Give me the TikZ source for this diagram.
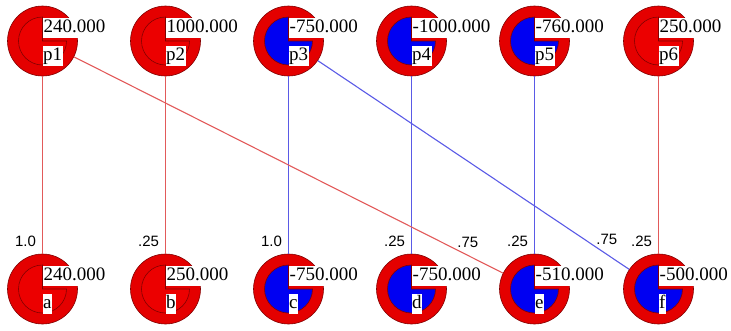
\documentclass[tikz,border=0pt]{standalone}
\usepackage{fontspec}
\setmainfont{Liberation Serif}
\newfontfamily\lblfont{Liberation Sans}
\definecolor{ringred}{RGB}{228,0,0}
\definecolor{ringedge}{RGB}{130,0,0}
\definecolor{posred}{RGB}{236,0,0}
\definecolor{negblue}{RGB}{0,0,242}
\definecolor{linkred}{RGB}{226,90,90}
\definecolor{linkblue}{RGB}{90,90,230}
\tikzset{
  vtx/.style={circle, minimum size=70pt, inner sep=0pt, fill=ringred, draw=ringedge, line width=0.6pt},
  valbox/.style={fill=white, inner sep=1pt, text height=14pt, text depth=4pt, anchor=south west,
    font=\fontsize{19}{19}\selectfont},
  namebox/.style={fill=white, inner sep=0.5pt, text height=14pt, text depth=5pt, anchor=north west,
    font=\fontsize{19}{19}\selectfont},
  wlabel/.style={font=\lblfont\fontsize{15}{15}\selectfont, inner sep=1pt},
  vlab/.style={wlabel, pos=0.93, anchor=east, xshift=-5pt},
  dlab/.style={wlabel, pos=0.89, anchor=south west},
  redlink/.style={draw=linkred, line width=1.1pt},
  bluelink/.style={draw=linkblue, line width=1.1pt},
  innerpos/.style={fill=posred, draw=ringedge, line width=0.6pt},
  innerneg/.style={fill=negblue, draw=ringedge, line width=0.6pt},
}
\begin{document}
\begin{tikzpicture}[x=1pt,y=-1pt]
\useasboundingbox (0,0) rectangle (731,330);
% vertices
\node[vtx] (p1) at (42.5,41) {};
\node[vtx] (p2) at (165.5,41) {};
\node[vtx] (p3) at (288.5,41) {};
\node[vtx] (p4) at (411.5,41) {};
\node[vtx] (p5) at (534.5,41) {};
\node[vtx] (p6) at (658.5,41) {};
\node[vtx] (a) at (42.5,289) {};
\node[vtx] (b) at (165.5,289) {};
\node[vtx] (c) at (288.5,289) {};
\node[vtx] (d) at (411.5,289) {};
\node[vtx] (e) at (534.5,289) {};
\node[vtx] (f) at (658.5,289) {};
% connectors
\draw[redlink] (p1) -- node[vlab] {1.0} (a);
\draw[redlink] (p2) -- node[vlab] {.25} (b);
\draw[bluelink] (p3) -- node[vlab] {1.0} (c);
\draw[bluelink] (p4) -- node[vlab] {.25} (d);
\draw[bluelink] (p5) -- node[vlab] {.25} (e);
\draw[redlink] (p6) -- node[vlab] {.25} (f);
\draw[redlink] (p1) -- node[dlab] {.75} (e);
\draw[bluelink] (p3) -- node[dlab] {.75} (f);
% inner discs
\foreach \n/\s in {p1/innerpos,p2/innerpos,p3/innerneg,p4/innerneg,p5/innerneg,p6/innerpos,
                   a/innerpos,b/innerpos,c/innerneg,d/innerneg,e/innerneg,f/innerneg}{
  \filldraw[\s] (\n.center) -- ++(270:24) arc[start angle=270, end angle=0, radius=24] -- cycle;
}
% value and name labels
\foreach \n/\v in {p1/240.000,p2/1000.000,p3/-750.000,p4/-1000.000,p5/-760.000,p6/250.000,
                   a/240.000,b/250.000,c/-750.000,d/-750.000,e/-510.000,f/-500.000}{
  \node[valbox] (\n v) at ([yshift=3pt]\n.center) {\v};
  \node[namebox] (\n n) at ([yshift=-5pt]\n.center) {\n};
}
\end{tikzpicture}
\end{document}
